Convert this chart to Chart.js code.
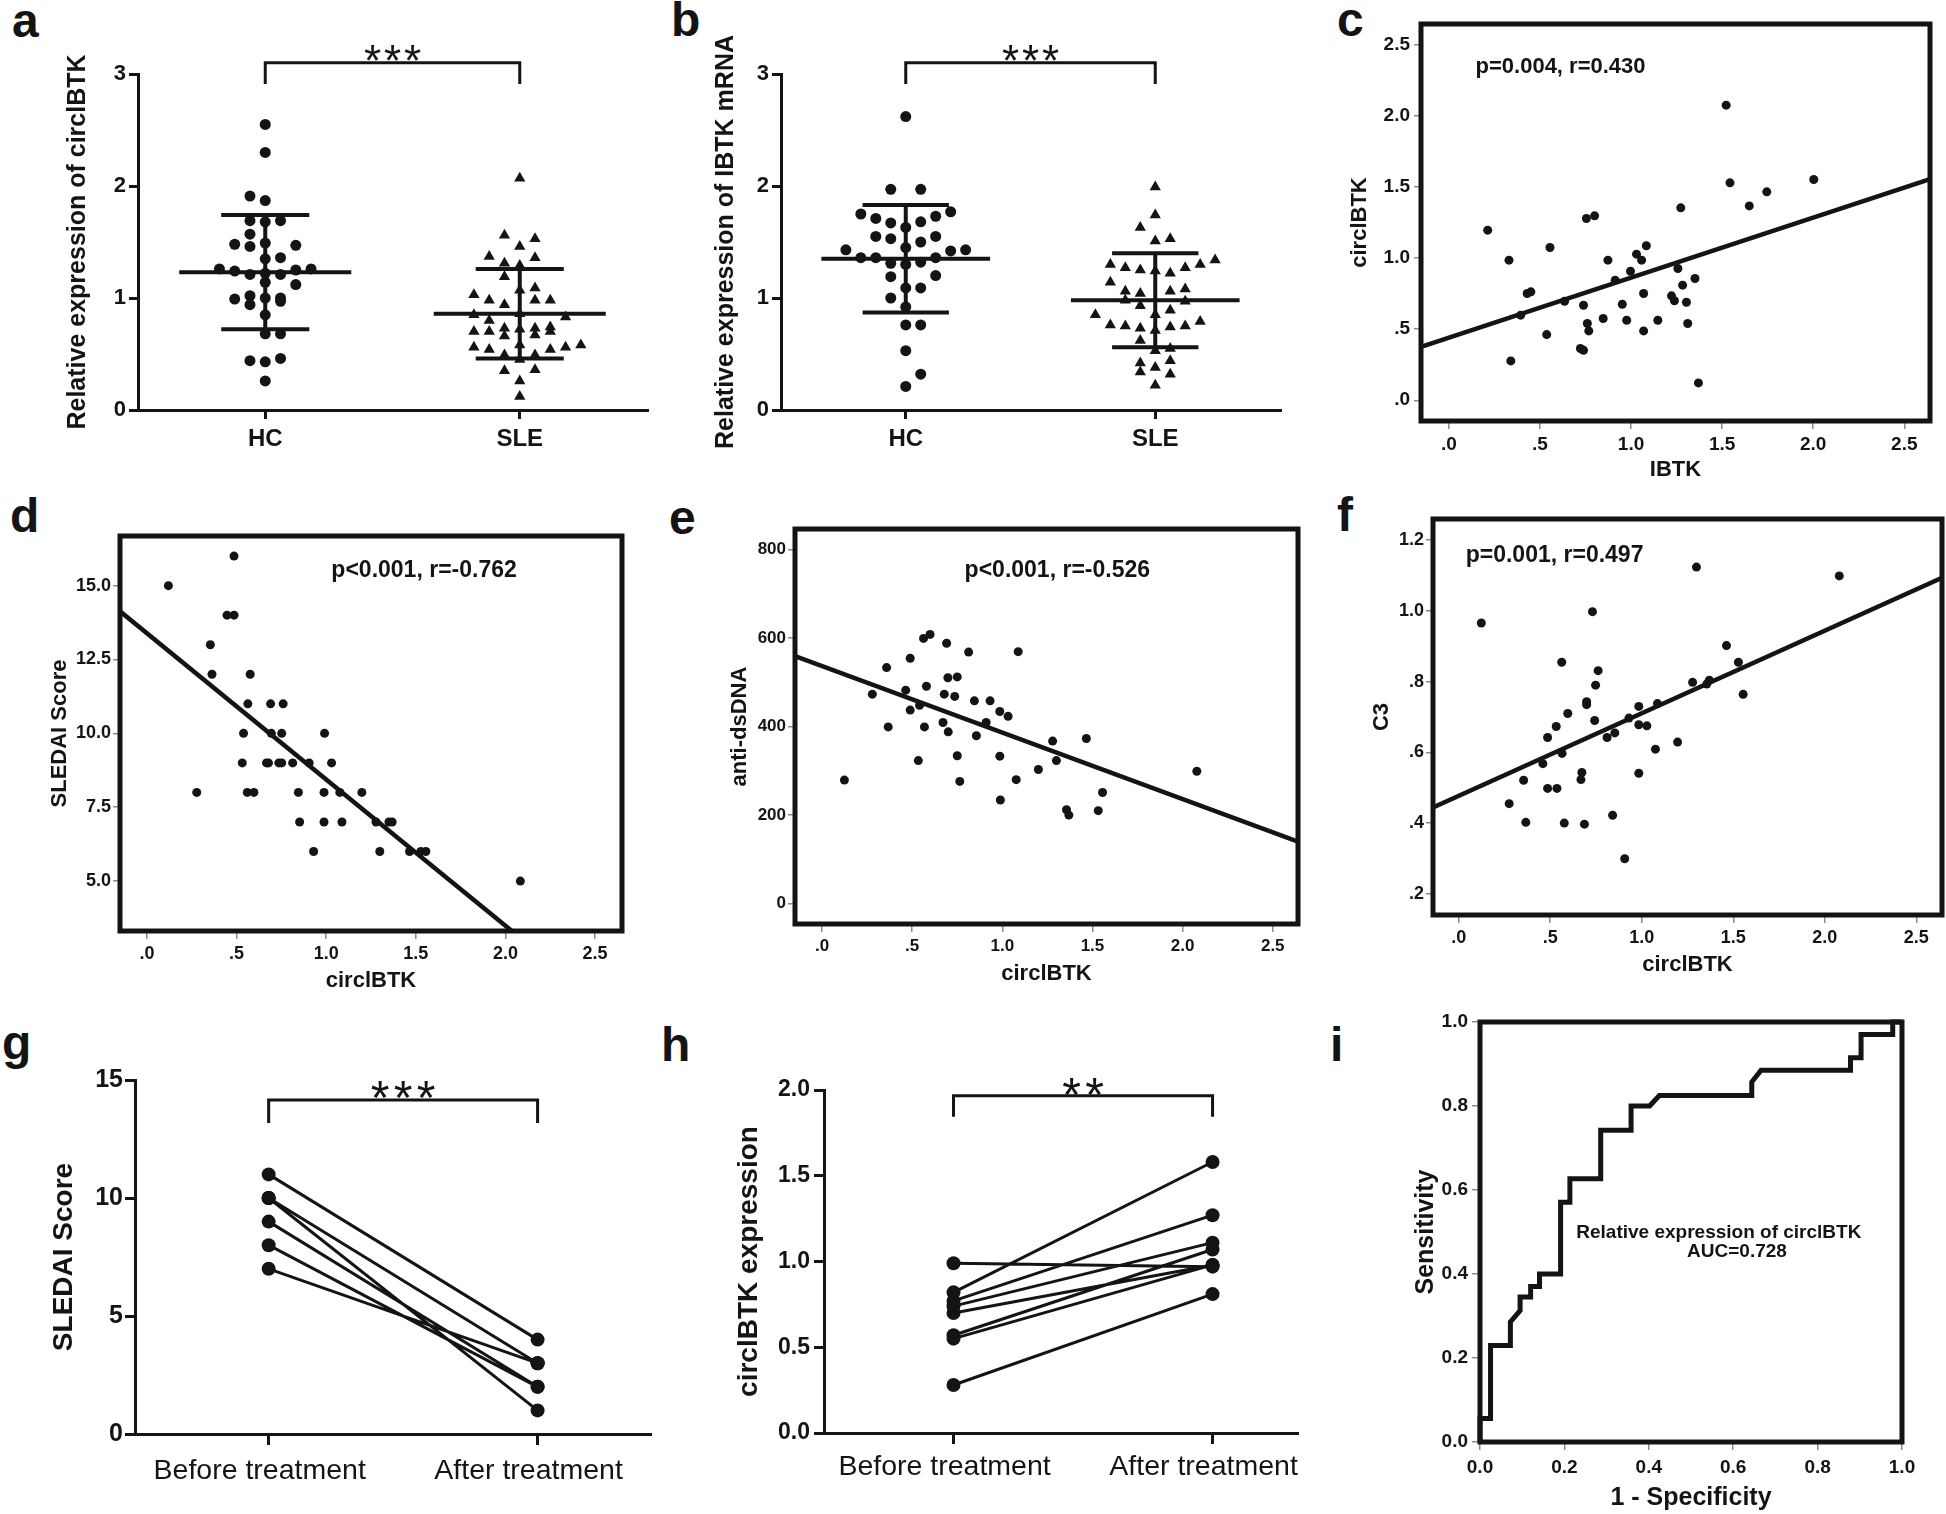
<!DOCTYPE html>
<html>
<head>
<meta charset="utf-8">
<script src="https://cdn.jsdelivr.net/npm/chart.js@4.4.1/dist/chart.umd.min.js"></script>
<style>
  body { margin: 0; background: #fff; }
  #page { position: relative; width: 1946px; height: 1514px; overflow: hidden; background: #fff; }
  #page canvas { position: absolute; left: 0; top: 0; }
  .lab { position: absolute; font: bold 48px 'Liberation Sans', Arial, sans-serif; line-height: 48px; color: #141414; }
</style>
</head>
<body>
<div id="page">
  <div class="lab" style="left:12px;top:-3px">a</div>
  <div class="lab" style="left:671px;top:-4px">b</div>
  <div class="lab" style="left:1337px;top:-4px">c</div>
  <div class="lab" style="left:10px;top:492px">d</div>
  <div class="lab" style="left:669px;top:494px">e</div>
  <div class="lab" style="left:1337px;top:491px">f</div>
  <div class="lab" style="left:2px;top:1019px">g</div>
  <div class="lab" style="left:661px;top:1021px">h</div>
  <div class="lab" style="left:1330px;top:1021px">i</div>
</div>
<script>
const FONT = "'Liberation Sans', Arial, Helvetica, sans-serif";
const INK = '#141414';
const PAGE_W = 1946, PAGE_H = 1514;

// ---- a: circIBTK in HC vs SLE (value + dot column in the swarm) ----
const groupNames = ['HC', 'SLE'];
const aHcValues  = [2.55,2.30,1.91,1.87,1.69,1.68,1.69,1.57,1.48,1.46,1.49,1.47,1.35,1.36,1.26,1.24,1.21,1.22,1.21,1.25,1.26,1.14,1.12,0.99,1.02,0.94,1.00,1.00,0.97,0.85,0.68,0.68,0.44,0.43,0.46,0.26];
const aHcColumns = [0,0,-1,0,-1,0,1,-1,-2,-1,0,2,0,1,-3,-2,-1,0,1,2,3,0,2,-2,-1,-1,0,1,1,0,0,1,-1,0,1,0];
const aSleValues  = [2.07,1.56,1.53,1.46,1.37,1.36,1.31,1.29,1.19,1.07,1.09,1.03,0.98,0.98,0.98,0.94,0.85,0.86,0.83,0.80,0.70,0.70,0.73,0.72,0.73,0.74,0.66,0.67,0.70,0.56,0.54,0.58,0.54,0.56,0.58,0.49,0.49,0.45,0.35,0.36,0.26,0.12];
const aSleColumns = [0,-1,1,0,-2,1,-1,0,-1,0,1,-3,-2,1,2,-1,-3,0,3,-2,-3,-2,-1,0,1,2,-1,1,2,-3,-2,0,2,3,4,-1,1,0,-1,1,0,0];
const aMeans = [1.23, 0.86];
const aSds = [0.51, 0.40];

// ---- b: IBTK mRNA in HC vs SLE ----
const bHcValues  = [2.62,1.97,1.97,1.75,1.77,1.71,1.73,1.67,1.68,1.63,1.55,1.53,1.50,1.55,1.45,1.43,1.42,1.43,1.36,1.36,1.31,1.30,1.32,1.36,1.19,1.20,1.09,1.09,1.00,0.92,0.76,0.76,0.53,0.32,0.21];
const bHcColumns = [0,-1,1,-3,3,-2,2,-1,1,0,-2,-1,1,2,0,-4,3,4,-3,-2,-1,0,1,2,-1,2,0,1,-1,0,0,1,0,1,0];
const bSleValues  = [1.99,1.74,1.63,1.51,1.53,1.30,1.27,1.25,1.24,1.22,1.27,1.30,1.34,1.14,1.06,1.04,1.06,1.08,0.98,0.97,0.93,0.89,0.85,0.85,0.76,0.75,0.73,0.74,0.75,0.79,0.71,0.62,0.53,0.55,0.42,0.44,0.34,0.38,0.32,0.22];
const bSleColumns = [0,0,-1,0,1,-3,-2,-1,0,1,2,3,4,-3,-2,-1,1,2,-2,2,-1,1,-4,0,-3,-2,-1,1,2,3,0,-1,0,1,-1,1,-1,0,1,0];
const bMeans = [1.35, 0.98];
const bSds = [0.48, 0.42];
const expressionTicks = [0, 1, 2, 3];

// ---- c: IBTK vs circIBTK ----
const cIbtk = [0.213,0.33,0.34,0.394,0.43,0.45,0.537,0.555,0.635,0.722,0.739,0.739,0.755,0.76,0.768,0.8,0.847,0.873,0.913,0.952,0.976,0.997,1.03,1.058,1.069,1.069,1.084,1.147,1.222,1.238,1.257,1.273,1.283,1.304,1.311,1.351,1.37,1.522,1.543,1.649,1.745,2.003];
const cCirc = [1.197,0.986,0.277,0.599,0.751,0.763,0.462,1.075,0.697,0.364,0.352,0.669,1.279,0.54,0.488,1.298,0.575,0.986,0.845,0.676,0.563,0.908,1.028,0.986,0.751,0.488,1.087,0.563,0.735,0.7,0.927,1.354,0.81,0.69,0.54,0.857,0.122,2.077,1.53,1.368,1.467,1.554];
const cFitX = [-0.153, 2.641];
const cFitY = [0.376, 1.556];

// ---- d: circIBTK vs SLEDAI ----
const dCirc = [0.12,0.486,0.447,0.486,0.354,0.363,0.576,0.563,0.69,0.76,0.539,0.694,0.752,0.991,0.532,0.667,0.678,0.736,0.752,0.813,0.905,1.03,0.278,0.56,0.597,0.845,0.988,1.076,1.199,0.852,0.988,1.088,1.278,1.35,1.368,0.93,1.299,1.465,1.528,1.556,2.083];
const dSledai = [15,16,14,14,13,12,12,11,11,11,10,10,10,10,9,9,9,9,9,9,9,9,8,8,8,8,8,8,8,7,7,7,7,7,7,6,6,6,6,6,5];
const dFitX = [-0.15, 2.05];
const dFitY = [14.13, 3.24];

// ---- e: circIBTK vs anti-dsDNA ----
const eCirc = [0.124,0.279,0.358,0.367,0.464,0.489,0.489,0.534,0.541,0.563,0.568,0.579,0.599,0.671,0.678,0.691,0.698,0.7,0.736,0.75,0.75,0.764,0.813,0.845,0.856,0.91,0.932,0.986,0.986,0.989,1.032,1.077,1.088,1.2,1.279,1.3,1.356,1.369,1.466,1.532,1.556,2.079];
const eDsDna = [279,473,533,399,482,554,437,323,448,599,399,491,608,409,473,588,510,388,468,334,512,276,568,458,379,409,458,434,333,234,423,280,569,303,367,323,212,200,373,210,251,299];
const eFitX = [-0.15, 2.64];
const eFitY = [559, 140];

// ---- f: circIBTK vs C3 ----
const fCirc = [0.124,0.276,0.355,0.367,0.46,0.486,0.486,0.533,0.537,0.563,0.565,0.577,0.596,0.668,0.673,0.687,0.699,0.699,0.731,0.743,0.748,0.762,0.811,0.841,0.853,0.907,0.93,0.984,0.984,0.984,1.028,1.075,1.086,1.196,1.278,1.299,1.355,1.369,1.463,1.528,1.554,2.079];
const fC3 = [0.966,0.455,0.521,0.402,0.568,0.642,0.498,0.673,0.498,0.855,0.597,0.4,0.71,0.523,0.543,0.397,0.735,0.743,0.998,0.69,0.79,0.831,0.642,0.422,0.655,0.299,0.697,0.73,0.678,0.541,0.675,0.609,0.738,0.629,0.798,1.124,0.793,0.804,0.902,0.855,0.764,1.099];
const fFitX = [-0.14, 2.64];
const fFitY = [0.444, 1.094];

const circTicks = [0, 0.5, 1, 1.5, 2, 2.5];
const circTickLabels = ['.0', '.5', '1.0', '1.5', '2.0', '2.5'];

// ---- g / h: paired before / after treatment ----
const treatNames = ['Before treatment', 'After treatment'];
const gBefore = [11, 10, 10, 10, 9, 8, 7];
const gAfter  = [4, 3, 1, 3, 2, 2, 3];
const hBefore = [0.99, 0.82, 0.77, 0.74, 0.70, 0.57, 0.55, 0.28];
const hAfter  = [0.97, 1.58, 1.27, 1.11, 0.98, 1.07, 0.98, 0.81];

// ---- i: ROC ----
const rocFpr = [0,0,0.025,0.025,0.072,0.072,0.095,0.095,0.12,0.12,0.141,0.141,0.191,0.191,0.213,0.213,0.286,0.286,0.358,0.358,0.402,0.425,0.644,0.644,0.666,0.878,0.878,0.903,0.903,0.978,0.978,1];
const rocTpr = [0,0.056,0.056,0.23,0.23,0.286,0.313,0.345,0.345,0.37,0.37,0.40,0.40,0.571,0.571,0.627,0.627,0.742,0.742,0.80,0.80,0.825,0.825,0.857,0.885,0.885,0.915,0.915,0.97,0.97,1,1];
const unitTicks = [0, 0.2, 0.4, 0.6, 0.8, 1];
const unitTickLabels = ['0.0', '0.2', '0.4', '0.6', '0.8', '1.0'];

// ---------- plugins ----------
const bracketPlugin = {
  id: 'bracket',
  afterDatasetsDraw(chart, args, o) {
    if (!o || o.from === undefined) return;
    const { ctx, scales: { x, y } } = chart;
    const x1 = x.getPixelForValue(o.from), x2 = x.getPixelForValue(o.to);
    const yTop = y.getPixelForValue(o.level), yEnd = y.getPixelForValue(o.drop);
    ctx.save();
    ctx.strokeStyle = INK;
    ctx.lineWidth = 3;
    ctx.beginPath();
    ctx.moveTo(x1, yEnd); ctx.lineTo(x1, yTop); ctx.lineTo(x2, yTop); ctx.lineTo(x2, yEnd);
    ctx.stroke();
    ctx.fillStyle = INK;
    ctx.font = o.starSize + 'px ' + FONT;
    ctx.textAlign = 'center';
    ctx.textBaseline = 'alphabetic';
    const cx = (x1 + x2) / 2;
    const base = y.getPixelForValue(o.starLevel) + 0.57 * o.starSize;
    for (let k = 0; k < o.stars; k++) {
      ctx.fillText('*', cx + (k - (o.stars - 1) / 2) * o.starGap, base);
    }
    ctx.restore();
  }
};

const notesPlugin = {
  id: 'notes',
  afterDatasetsDraw(chart, args, o) {
    if (!o || !o.items) return;
    const { ctx, scales: { x, y } } = chart;
    ctx.save();
    ctx.fillStyle = INK;
    ctx.textAlign = 'center';
    ctx.textBaseline = 'middle';
    o.items.forEach(it => {
      ctx.font = 'bold ' + it.size + 'px ' + FONT;
      ctx.fillText(it.text, x.getPixelForValue(it.x), y.getPixelForValue(it.y));
    });
    ctx.restore();
  }
};

const framePlugin = {
  id: 'frame',
  afterDatasetsDraw(chart, args, o) {
    if (!o || !o.width) return;
    const a = chart.chartArea;
    const ctx = chart.ctx;
    ctx.save();
    ctx.strokeStyle = INK;
    ctx.lineWidth = o.width;
    ctx.strokeRect(a.left, a.top, a.right - a.left, a.bottom - a.top);
    ctx.restore();
  }
};

// ---------- helpers ----------
function addCanvas(id) {
  const c = document.createElement('canvas');
  c.id = id;
  c.width = PAGE_W; c.height = PAGE_H;
  c.style.width = PAGE_W + 'px'; c.style.height = PAGE_H + 'px';
  document.getElementById('page').appendChild(c);
  return c;
}

// box = [left, top, right, bottom] of the plot area on the page
function place(box, yTitleX, yTitleSize, xTitleY, xTitleSize) {
  const [L, T, R, B] = box;
  const padLeft = yTitleX - yTitleSize * 1.2 / 2;
  const band = xTitleY ? xTitleY - B + xTitleSize * 1.2 / 2 : 60;
  return {
    layout: { autoPadding: false, padding: { left: padLeft, top: T, right: PAGE_W - R, bottom: PAGE_H - B - band } },
    yBand: L - padLeft,
    xBand: band
  };
}

function axis(o) {
  return {
    type: 'linear', min: o.min, max: o.max,
    afterBuildTicks: s => { s.ticks = o.ticks.map(v => ({ value: v })); },
    afterFit: s => { if (s.isHorizontal()) s.height = o.band; else s.width = o.band; },
    ticks: {
      callback: (v, i) => o.labels[i],
      color: INK, autoSkip: false, maxRotation: 0, minRotation: 0,
      padding: o.pad, labelOffset: o.labelOffset || 0,
      font: { family: FONT, size: o.tickSize, weight: o.tickWeight || 'bold' }
    },
    grid: o.spss
      ? { display: true, drawOnChartArea: false, drawTicks: true, tickLength: o.tick, color: '#8a8a8a', lineWidth: 1.5 }
      : { display: true, drawOnChartArea: false, drawTicks: true, tickLength: o.tick, color: INK, lineWidth: 3 },
    border: o.spss ? { display: false } : { display: true, color: INK, width: 3 },
    title: o.title
      ? { display: true, text: o.title, color: INK, padding: 0, font: { family: FONT, size: o.titleSize, weight: 'bold' } }
      : { display: false }
  };
}

function baseOptions(pl) {
  return {
    responsive: false, animation: false, devicePixelRatio: 1, events: [],
    layout: pl.layout,
    plugins: { legend: { display: false }, tooltip: { enabled: false } }
  };
}

function swarm(center, values, columns, step) {
  return values.map((v, i) => ({ x: center + columns[i] * step, y: v }));
}

function meanSd(centers, means, sds, halfMean, halfCap) {
  const pts = [];
  centers.forEach((c, i) => {
    const m = means[i], s = sds[i];
    pts.push({ x: c - halfMean, y: m }, { x: c + halfMean, y: m }, { x: c, y: null });
    pts.push({ x: c - halfCap, y: m + s }, { x: c + halfCap, y: m + s }, { x: c, y: null });
    pts.push({ x: c - halfCap, y: m - s }, { x: c + halfCap, y: m - s }, { x: c, y: null });
    pts.push({ x: c, y: m - s }, { x: c, y: m + s }, { x: c, y: null });
  });
  return pts;
}

function pairs(before, after) {
  const pts = [];
  before.forEach((b, i) => { pts.push({ x: 0, y: b }, { x: 1, y: after[i] }, { x: 0.5, y: null }); });
  return pts;
}

function xy(xs, ys) { return xs.map((v, i) => ({ x: v, y: ys[i] })); }

// ---------- a & b : dot plots ----------
function dotPlot(id, box, yTitleX, title, hcV, hcC, sleV, sleC, means, sds) {
  const pl = place(box, yTitleX, 25, null, 0);
  const opts = baseOptions(pl);
  opts.scales = {
    x: axis({ min: 0, max: 2, ticks: [0.5, 1.5], labels: groupNames, band: pl.xBand, tick: 9, pad: 6, tickSize: 24 }),
    y: axis({ min: 0, max: 3, ticks: expressionTicks, labels: expressionTicks.map(String), band: pl.yBand, tick: 9, pad: 3, tickSize: 22, title: title, titleSize: 25 })
  };
  opts.plugins.bracket = { from: 0.5, to: 1.5, level: 3.1, drop: 2.91, stars: 3, starLevel: 3.21, starSize: 44, starGap: 20 };
  new Chart(addCanvas(id), {
    type: 'scatter',
    data: { datasets: [
      { data: swarm(0.5, hcV, hcC, 0.06), pointStyle: 'circle', pointRadius: 5.5, backgroundColor: INK, borderWidth: 0 },
      { data: swarm(1.5, sleV, sleC, 0.06), pointStyle: 'triangle', pointRadius: 6.5, backgroundColor: INK, borderColor: INK, borderWidth: 0 },
      { data: meanSd([0.5, 1.5], means, sds, 0.338, 0.173), showLine: true, spanGaps: false, pointRadius: 0, borderColor: INK, borderWidth: 4 }
    ] },
    options: opts,
    plugins: [bracketPlugin]
  });
}

dotPlot('chartA', [138, 74, 647, 410], 78, 'Relative expression of circlBTK', aHcValues, aHcColumns, aSleValues, aSleColumns, aMeans, aSds);
dotPlot('chartB', [781, 74, 1280, 410], 726, 'Relative expression of IBTK mRNA', bHcValues, bHcColumns, bSleValues, bSleColumns, bMeans, bSds);

// ---------- c, d, e, f : SPSS scatter plots ----------
function scatterPlot(id, cfg) {
  const pl = place(cfg.box, cfg.yTitleX, 22, cfg.xTitleY, 22);
  const opts = baseOptions(pl);
  opts.scales = {
    x: axis({ spss: true, min: cfg.xMin, max: cfg.xMax, ticks: circTicks, labels: circTickLabels, band: pl.xBand, tick: 8, pad: 4, tickSize: cfg.tickSize, title: cfg.xTitle, titleSize: 22 }),
    y: axis({ spss: true, min: cfg.yMin, max: cfg.yMax, ticks: cfg.yTicks, labels: cfg.yLabels, band: pl.yBand, tick: 7, pad: cfg.yPad, tickSize: cfg.tickSize, title: cfg.yTitle, titleSize: 22 })
  };
  opts.plugins.frame = { width: 5 };
  opts.plugins.notes = { items: [cfg.note] };
  new Chart(addCanvas(id), {
    type: 'scatter',
    data: { datasets: [
      { data: xy(cfg.xs, cfg.ys), pointRadius: 4.5, backgroundColor: INK, borderWidth: 0 },
      { data: xy(cfg.fitX, cfg.fitY), showLine: true, pointRadius: 0, borderColor: INK, borderWidth: 4.5 }
    ] },
    options: opts,
    plugins: [framePlugin, notesPlugin]
  });
}

scatterPlot('chartC', {
  box: [1421, 24, 1930, 421], yTitleX: 1360, xTitleY: 470, xTitle: 'IBTK', yTitle: 'circlBTK',
  xMin: -0.153, xMax: 2.641, yMin: -0.146, yMax: 2.648, tickSize: 19, yPad: 4,
  yTicks: circTicks, yLabels: circTickLabels,
  xs: cIbtk, ys: cCirc, fitX: cFitX, fitY: cFitY,
  note: { x: 0.613, y: 2.345, text: 'p=0.004, r=0.430', size: 22 }
});

scatterPlot('chartD', {
  box: [120, 536, 622, 931], yTitleX: 60, xTitleY: 981, xTitle: 'circlBTK', yTitle: 'SLEDAI Score',
  xMin: -0.15, xMax: 2.65, yMin: 3.31, yMax: 16.68, tickSize: 18, yPad: 2,
  yTicks: [5, 7.5, 10, 12.5, 15], yLabels: ['5.0', '7.5', '10.0', '12.5', '15.0'],
  xs: dCirc, ys: dSledai, fitX: dFitX, fitY: dFitY,
  note: { x: 1.546, y: 15.52, text: 'p<0.001, r=-0.762', size: 23 }
});

scatterPlot('chartE', {
  box: [795, 529, 1298, 924], yTitleX: 740, xTitleY: 974, xTitle: 'circlBTK', yTitle: 'anti-dsDNA',
  xMin: -0.15, xMax: 2.64, yMin: -46, yMax: 846, tickSize: 17, yPad: 2,
  yTicks: [0, 200, 400, 600, 800], yLabels: ['0', '200', '400', '600', '800'],
  xs: eCirc, ys: eDsDna, fitX: eFitX, fitY: eFitY,
  note: { x: 1.305, y: 753, text: 'p<0.001, r=-0.526', size: 23 }
});

scatterPlot('chartF', {
  box: [1433, 519, 1942, 915], yTitleX: 1382, xTitleY: 965, xTitle: 'circlBTK', yTitle: 'C3',
  xMin: -0.14, xMax: 2.64, yMin: 0.14, yMax: 1.26, tickSize: 18, yPad: 2,
  yTicks: [0.2, 0.4, 0.6, 0.8, 1.0, 1.2], yLabels: ['.2', '.4', '.6', '.8', '1.0', '1.2'],
  xs: fCirc, ys: fC3, fitX: fFitX, fitY: fFitY,
  note: { x: 0.524, y: 1.155, text: 'p=0.001, r=0.497', size: 23 }
});

// ---------- g & h : paired lines ----------
function pairedPlot(id, cfg) {
  const pl = place(cfg.box, cfg.yTitleX, 28, null, 0);
  const opts = baseOptions(pl);
  opts.scales = {
    x: axis({ min: cfg.xMin, max: cfg.xMax, ticks: [0, 1], labels: treatNames, band: pl.xBand, tick: 11, pad: cfg.xPad, tickSize: 28.5, tickWeight: 'normal', labelOffset: -9 }),
    y: axis({ min: cfg.yMin, max: cfg.yMax, ticks: cfg.yTicks, labels: cfg.yLabels, band: pl.yBand, tick: 10, pad: cfg.yPad, tickSize: cfg.tickSize, title: cfg.yTitle, titleSize: 28 })
  };
  opts.plugins.bracket = cfg.bracket;
  new Chart(addCanvas(id), {
    type: 'scatter',
    data: { datasets: [
      { data: pairs(cfg.before, cfg.after), showLine: true, spanGaps: false, pointRadius: 7, backgroundColor: INK, borderColor: INK, borderWidth: 3, pointBorderWidth: 0 }
    ] },
    options: opts,
    plugins: [bracketPlugin]
  });
}

pairedPlot('chartG', {
  box: [135, 1080, 650, 1434], yTitleX: 64, yTitle: 'SLEDAI Score',
  xMin: -0.497, xMax: 1.418, yMin: 0, yMax: 15, yTicks: [0, 5, 10, 15], yLabels: ['0', '5', '10', '15'],
  tickSize: 25, xPad: 9, yPad: 2,
  before: gBefore, after: gAfter,
  bracket: { from: 0, to: 1, level: 14.15, drop: 13.18, stars: 3, starLevel: 14.7, starSize: 48, starGap: 23 }
});

pairedPlot('chartH', {
  box: [824, 1090, 1297, 1433], yTitleX: 749.5, yTitle: 'circlBTK expression',
  xMin: -0.5, xMax: 1.326, yMin: 0, yMax: 2, yTicks: [0, 0.5, 1, 1.5, 2], yLabels: ['0.0', '0.5', '1.0', '1.5', '2.0'],
  tickSize: 23, xPad: 6, yPad: 4,
  before: hBefore, after: hAfter,
  bracket: { from: 0, to: 1, level: 1.967, drop: 1.844, stars: 2, starLevel: 2.04, starSize: 48, starGap: 23 }
});

// ---------- i : ROC ----------
(function () {
  const pl = place([1480, 1022, 1902, 1442], 1426, 25, 1498, 25);
  const opts = baseOptions(pl);
  opts.scales = {
    x: axis({ spss: true, min: 0, max: 1, ticks: unitTicks, labels: unitTickLabels, band: pl.xBand, tick: 8, pad: 6, tickSize: 19, title: '1 - Specificity', titleSize: 25 }),
    y: axis({ spss: true, min: 0, max: 1, ticks: unitTicks, labels: unitTickLabels, band: pl.yBand, tick: 8, pad: 4, tickSize: 19, title: 'Sensitivity', titleSize: 25 })
  };
  opts.plugins.frame = { width: 5 };
  opts.plugins.notes = { items: [
    { x: 0.566, y: 0.499, text: 'Relative expression of circlBTK', size: 19 },
    { x: 0.609, y: 0.454, text: 'AUC=0.728', size: 19 }
  ] };
  new Chart(addCanvas('chartI'), {
    type: 'scatter',
    data: { datasets: [
      { data: xy(rocFpr, rocTpr), showLine: true, pointRadius: 0, borderColor: INK, borderWidth: 5, borderJoinStyle: 'miter', clip: 4 }
    ] },
    options: opts,
    plugins: [framePlugin, notesPlugin]
  });
})();
</script>
</body>
</html>
